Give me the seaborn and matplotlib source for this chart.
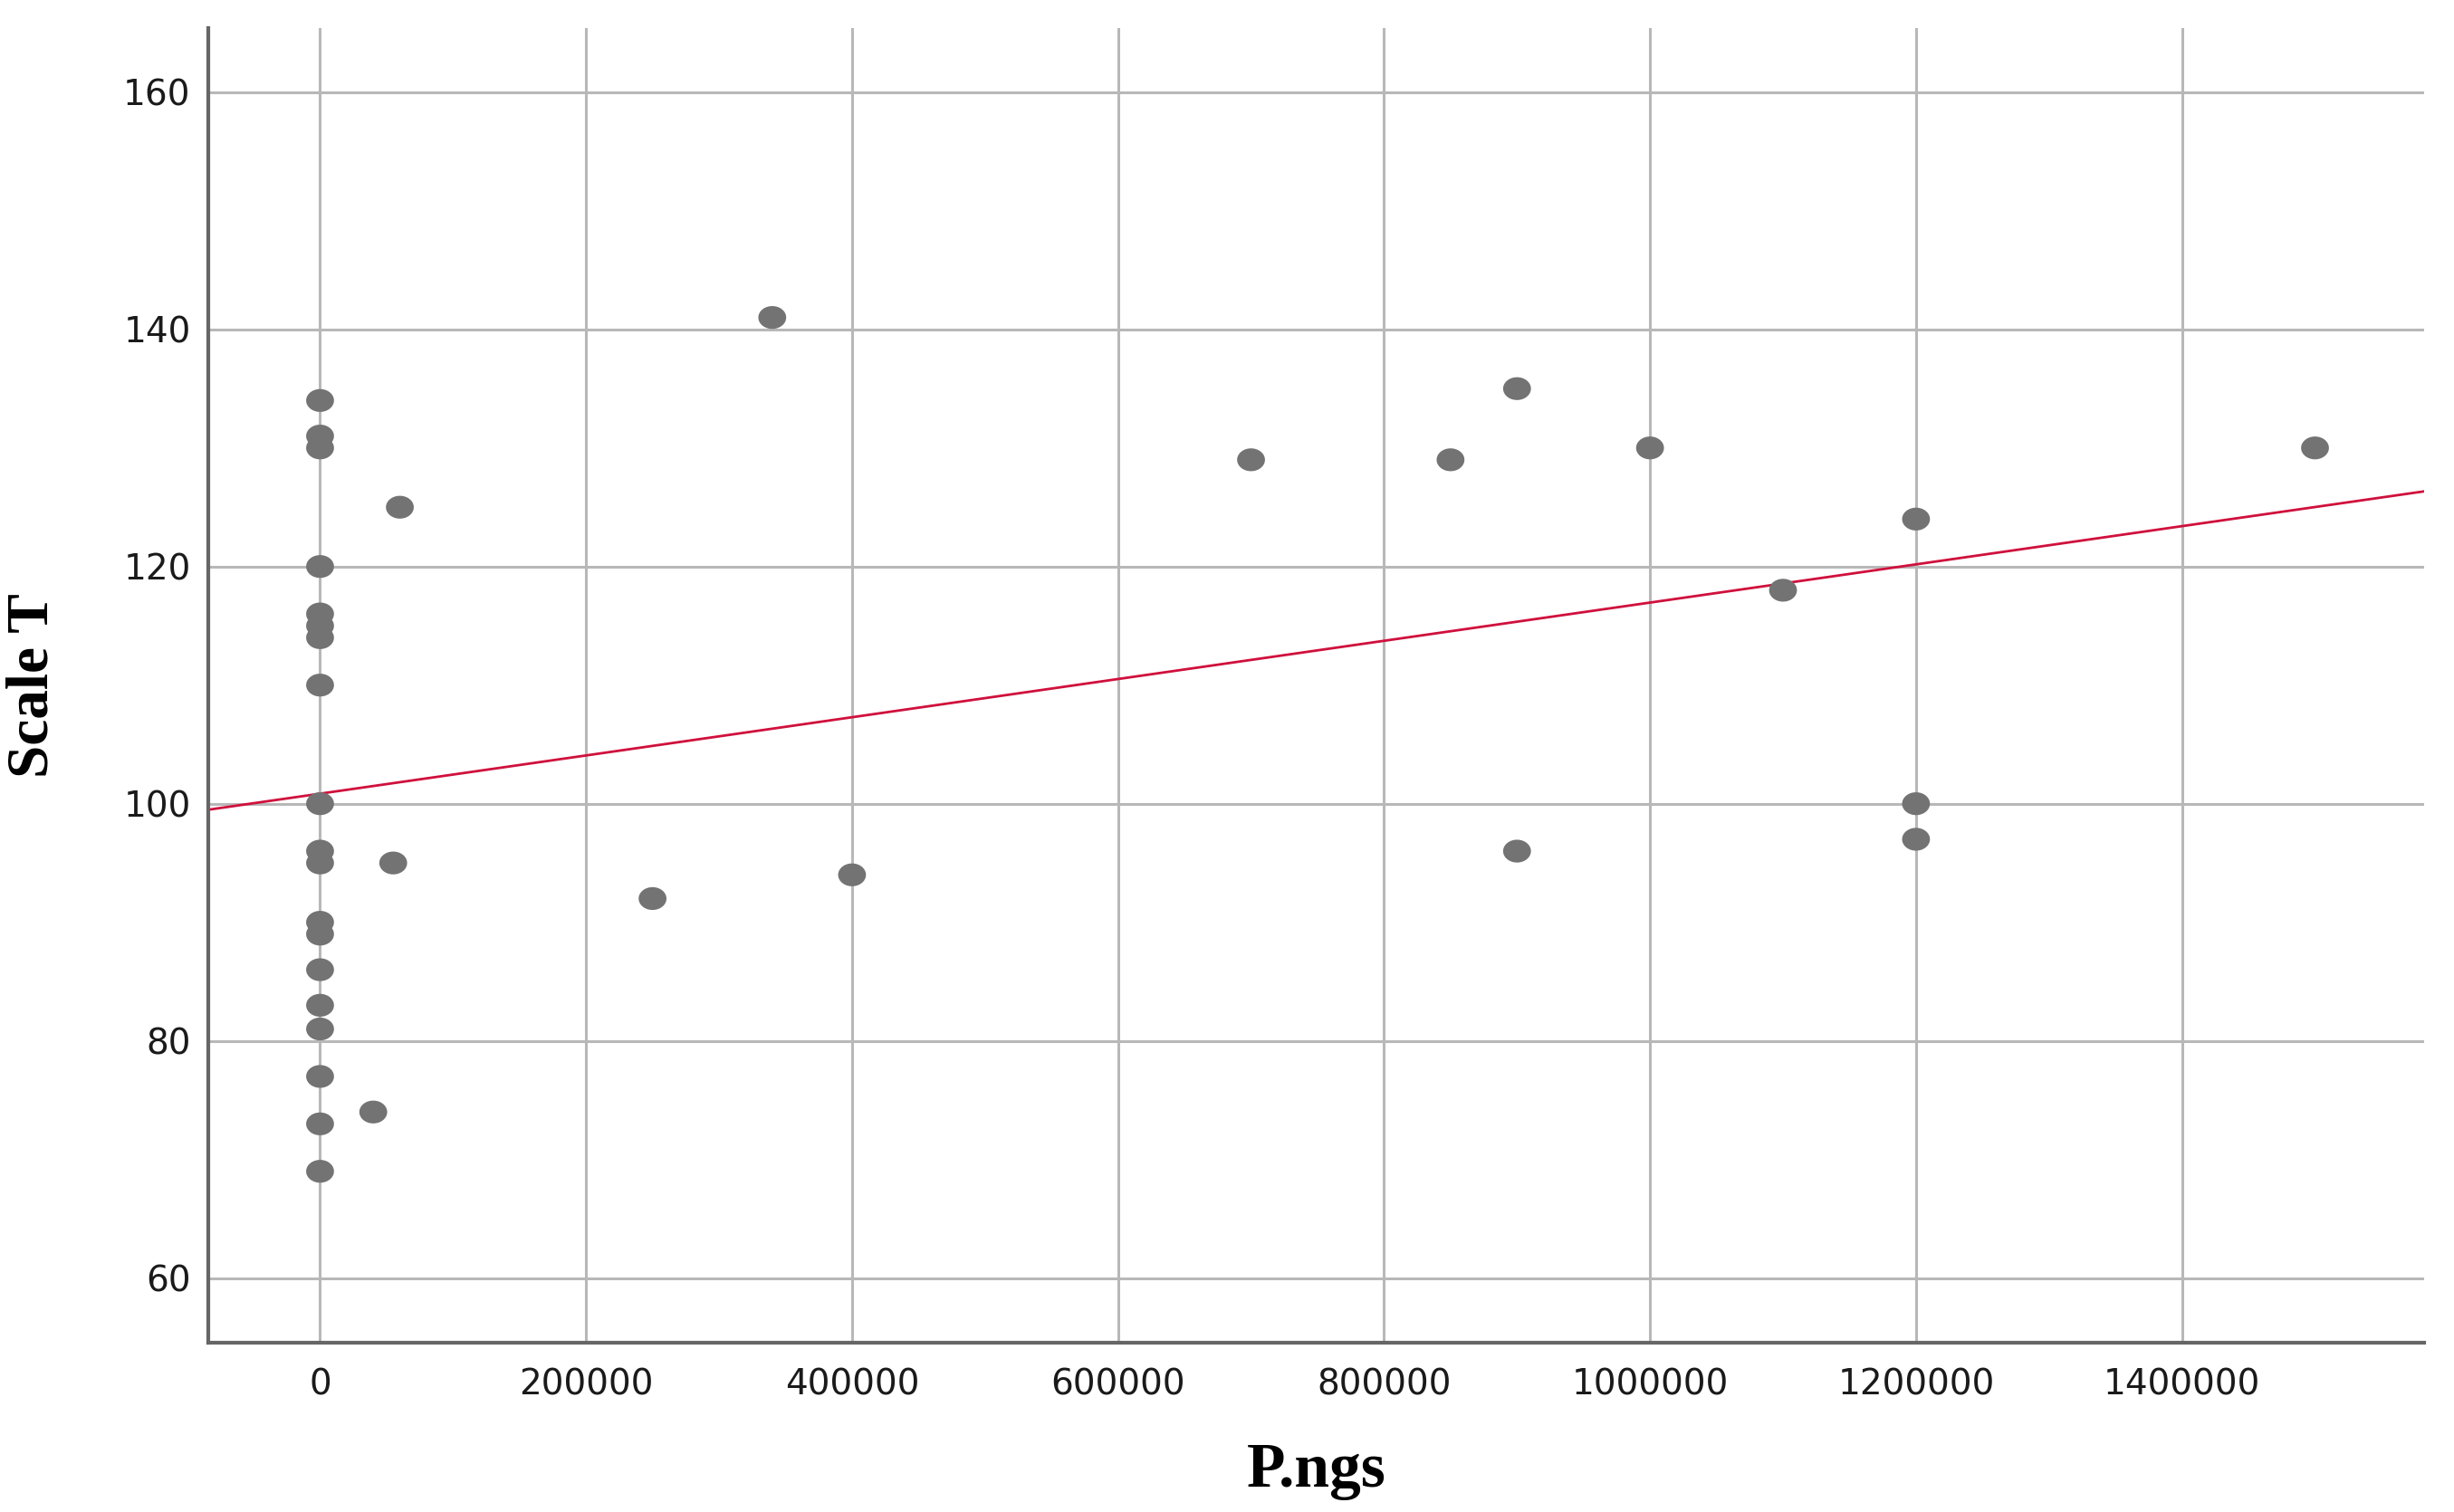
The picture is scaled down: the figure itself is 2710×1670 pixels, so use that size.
import numpy as np
import pandas as pd
import matplotlib
matplotlib.use("Agg")
import matplotlib.pyplot as plt
import seaborn as sns

# ---- data ----
p_ngs = [0]*19 + [60000, 55000, 40000,
                  340000, 250000, 400000, 700000, 850000, 900000, 900000,
                  1000000, 1100000, 1200000, 1200000, 1200000, 1500000]
scale_t = [134, 131, 130, 120, 116, 115, 114, 110, 100, 96, 95, 90, 89, 86, 83, 81, 77, 73, 69,
           125, 95, 74,
           141, 92, 94, 129, 129, 135, 96,
           130, 118, 124, 100, 97, 130]
x_ticks = [0, 200000, 400000, 600000, 800000, 1000000, 1200000, 1400000]
y_ticks = [60, 80, 100, 120, 140, 160]

df = pd.DataFrame({"P.ngs": p_ngs, "Scale T": scale_t})

sns.set_theme(style="whitegrid")
plt.rcParams['font.family'] = ['DejaVu Sans']

fig = plt.figure(figsize=(27.1, 16.7), dpi=100)
ax = fig.add_axes([0.0849, 0.1120, 0.9029, 0.8694])

xlim = (-84000, 1582000)
ylim = (54.55, 165.4)
ax.set_xlim(*xlim)
ax.set_ylim(*ylim)

theta = np.linspace(0, 2*np.pi, 80)
ellipse = np.column_stack([np.cos(theta), 0.82*np.sin(theta)])

sns.regplot(data=df, x="P.ngs", y="Scale T", ax=ax, scatter=False, ci=None,
            truncate=False, line_kws=dict(color="#d0103c", lw=2.0, zorder=2))
sns.scatterplot(data=df, x="P.ngs", y="Scale T", ax=ax, marker=ellipse, s=490,
                color="#737373", edgecolor="none", linewidth=0, zorder=3)

ax.set_xlim(*xlim)
ax.set_ylim(*ylim)
ax.set_xticks(x_ticks)
ax.set_xticklabels([str(v) for v in x_ticks])
ax.set_yticks(y_ticks)
ax.set_yticklabels([str(v) for v in y_ticks])

ax.set_facecolor("white")
ax.grid(True, color="#b8b8b8", lw=2.2)
ax.set_axisbelow(True)
for s in ["top", "right"]:
    ax.spines[s].set_visible(False)
for s in ["left", "bottom"]:
    ax.spines[s].set_visible(True)
    ax.spines[s].set_color("#666666")
    ax.spines[s].set_linewidth(3)

ax.tick_params(axis="both", length=0, labelsize=28, colors="#1a1a1a")
ax.tick_params(axis="y", pad=14)
ax.tick_params(axis="x", pad=20)

ax.set_xlabel("P.ngs", fontsize=50, fontweight="bold", family="Liberation Serif", color="black")
ax.set_ylabel("Scale T", fontsize=47, fontweight="bold", family="Liberation Serif", color="black")
ax.xaxis.set_label_coords(0.5, -0.076)
ax.yaxis.set_label_coords(-0.067, 0.5)

fig.savefig("out.png", dpi=100, facecolor="white")
